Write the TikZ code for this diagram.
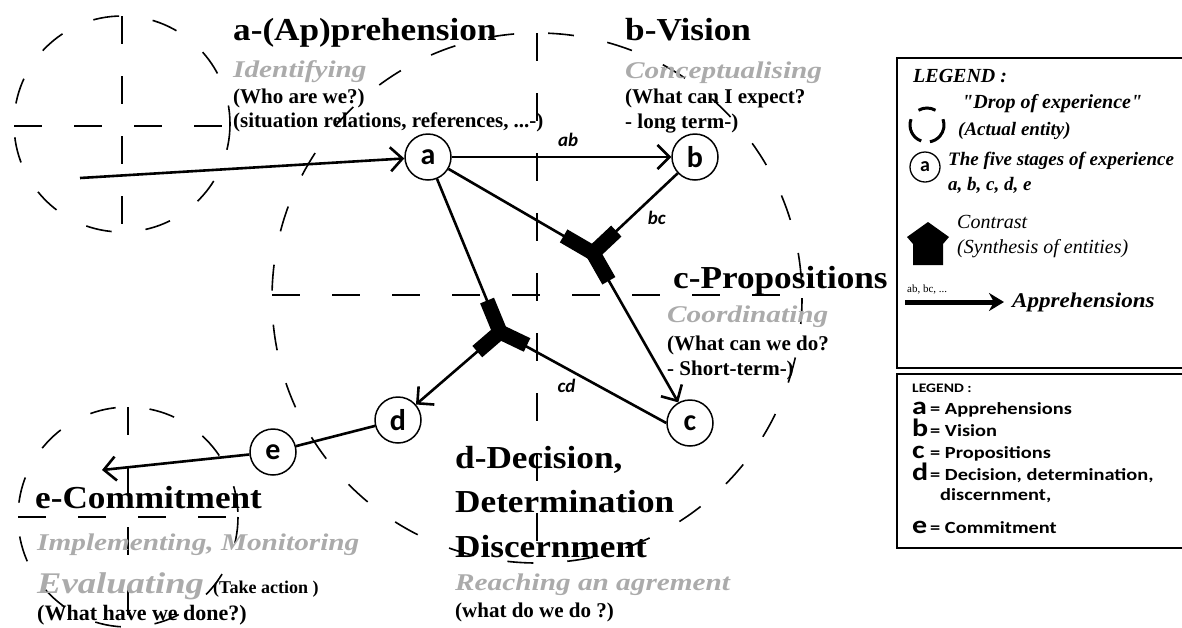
\documentclass[tikz,border=0pt]{standalone}
\usepackage{fontspec}
\setmainfont{Liberation Serif}
\newfontfamily\headfont{Liberation Serif}[FakeStretch=1.1]
\newfontfamily\grayfont{Liberation Serif}[FakeStretch=1.22]
\newfontfamily\stagefont{Carlito}
\newfontfamily\keyfont{Carlito}[FakeStretch=1.2]
\usetikzlibrary{arrows.meta,positioning,calc}

\begin{document}
\begin{tikzpicture}[
  x=1pt, y=-1pt,
  stage/.style={draw, circle, line width=1.5pt, minimum size=46pt, inner sep=0pt, fill=white,
    font=\stagefont\bfseries\fontsize{30}{30}\selectfont},
  conn/.style={line width=2.6pt},
  arr/.style={conn, -{Straight Barb[length=12pt,width=24pt]}},
  drop/.style={line width=1.6pt, dash pattern=on 26pt off 34pt},
  cross/.style={line width=1.6pt, dash pattern=on 28pt off 32pt},
  stub/.style={line width=15pt},
  hd/.style={anchor=base west, inner sep=0pt, font=\headfont\bfseries\fontsize{32}{32}\selectfont},
  gr/.style={anchor=base west, inner sep=0pt, text=black!33, font=\grayfont\bfseries\itshape\fontsize{24}{24}\selectfont},
  qs/.style={anchor=base west, inner sep=0pt, font=\bfseries\fontsize{21}{21}\selectfont},
  edgelbl/.style={inner sep=1pt, font=\stagefont\bfseries\itshape\fontsize{19}{19}\selectfont},
  lg/.style={anchor=base west, inner sep=0pt, font=\itshape\fontsize{20}{20}\selectfont},
  key/.style={anchor=base west, inner sep=0pt, font=\keyfont\bfseries\fontsize{17}{17}\selectfont}
]
\useasboundingbox (0,0) rectangle (1182,627);

\draw[drop] (122,124) circle[radius=108];
\draw[cross] (14,126) -- (230,126);
\draw[cross] (122,16) -- (122,232);
\draw[drop] (537,298) circle[radius=265];
\draw[cross] (272,295) -- (802,295);
\draw[cross] (537,33) -- (537,563);
\draw[drop] (128,517) circle[radius=110];
\draw[cross] (18,517) -- (238,517);
\draw[cross] (128,407) -- (128,627);

\node[hd] (ta) at (233,40) {a-(Ap)prehension};
\node[gr] (ga) at (233,77) {Identifying};
\node[qs] (qa1) at (233,103) {(Who are we?)};
\node[qs] (qa2) at (233,127) {(situation relations, references, ...-)};
\node[hd] (tb) at (625,40) {b-Vision};
\node[gr] (gb) at (625,78) {Conceptualising};
\node[qs] (qb1) at (625,103) {(What can I expect?};
\node[qs] (qb2) at (625,128) {- long term-)};
\node[hd] (tc) at (673,288) {c-Propositions};
\node[gr] (gc) at (667,322) {Coordinating};
\node[qs] (qc1) at (667,350) {(What can we do?};
\node[qs] (qc2) at (667,375) {- Short-term-)};
\node[hd] (td1) at (455,468) {d-Decision,};
\node[hd] (td2) at (455,512) {Determination};
\node[hd] (td3) at (455,557) {Discernment};
\node[gr] (gd) at (455,590) {Reaching an agrement};
\node[qs] (qd) at (455,617) {(what do we do ?)};
\node[hd] (te) at (35,508) {e-Commitment};
\node[gr] (ge1) at (37,550) {Implementing, Monitoring};
\node[gr, font=\grayfont\bfseries\itshape\fontsize{30}{30}\selectfont] (ge2) at (37,593) {Evaluating};
\node[qs, font=\bfseries\fontsize{18}{18}\selectfont] (qe1) at (213,593) {(Take action )};
\node[qs, font=\bfseries\fontsize{22}{22}\selectfont] (qe2) at (37,620) {(What have we done?)};

\coordinate (src) at (80,178);
\coordinate (cA) at (593,253);
\coordinate (cB) at (500,332);
\coordinate (out) at (102,470);

\draw[stub] (cA) -- ($(cA)!34pt!(428,157)$);
\draw[stub] (cA) -- ($(cA)!32pt!(695,157)$);
\draw[stub] (cA) -- ($(cA)!32pt!(690,423)$);
\draw[stub] (cB) -- ($(cB)!34pt!(428,157)$);
\draw[stub] (cB) -- ($(cB)!30pt!(398,420)$);
\draw[stub] (cB) -- ($(cB)!30pt!(690,423)$);

\node[stage] (a) at (428,157) {a};
\node[stage] (b) at (695,157) {b};
\node[stage] (c) at (690,423) {c};
\node[stage] (d) at (398,420) {d};
\node[stage] (e) at (273,452) {e};

\draw[arr] (src) -- (a);
\draw[arr] (a) -- node[edgelbl, pos=.53, above=8pt] {ab} (b);
\draw[conn] (a) -- (cA);
\draw[conn] (b) -- node[edgelbl, pos=.45, anchor=north west, xshift=6pt] {bc} (cA);
\draw[arr] (cA) -- (c);
\draw[conn] (a) -- (cB);
\draw[arr] (cB) -- (d);
\draw[conn] (cB) -- node[edgelbl, pos=.4, below=8pt] {cd} (c.west);
\draw[conn] (d) -- (e);
\draw[arr] (e) -- (out);

\draw[line width=1.6pt] (897,58) rectangle (1195,368);
\node[lg, font=\bfseries\itshape\fontsize{20}{20}\selectfont] (lg1) at (913,82) {LEGEND :};
\draw[line width=3pt] (927,125) ++(240:17) arc[start angle=240, end angle=300, radius=17];
\draw[line width=3pt] (927,125) ++(110:17) arc[start angle=110, end angle=200, radius=17];
\draw[line width=3pt] (927,125) ++(-20:17) arc[start angle=-20, end angle=80, radius=17];
\node[lg, font=\bfseries\itshape\fontsize{20}{20}\selectfont] (ld1) at (962,108) {\textquotedbl Drop of experience\textquotedbl};
\node[lg, font=\bfseries\itshape\fontsize{19}{19}\selectfont] (ld2) at (958,135) {(Actual entity)};
\node[stage, minimum size=30pt, line width=1.3pt, font=\stagefont\bfseries\fontsize{20}{20}\selectfont] (la) at (925,167) {a};
\node[lg, font=\bfseries\itshape\fontsize{19}{19}\selectfont] (ls1) at (948,165) {The five stages of experience};
\node[lg, font=\bfseries\itshape\fontsize{19}{19}\selectfont] (ls2) at (948,190) {a, b, c, d, e};
\fill (928,222) -- (949,237) -- (943,244) -- (943,265) -- (913,265) -- (913,244) -- (907,237) -- cycle;
\node[lg] (lc1) at (957,228) {Contrast};
\node[lg] (lc2) at (957,253) {(Synthesis of entities)};
\coordinate (la1) at (905,302);
\coordinate (la2) at (1004,302);
\draw[line width=5pt, -{Stealth[length=15pt,width=18pt]}] (la1) -- (la2);
\node[qs, font=\fontsize{11}{11}\selectfont] (lab) at (907,292) {ab, bc, ...};
\node[lg, font=\headfont\bfseries\itshape\fontsize{21}{21}\selectfont] (lap) at (1012,307) {Apprehensions};

\draw[line width=1.6pt] (897,374) rectangle (1195,548);
\node[key, font=\keyfont\bfseries\fontsize{13}{13}\selectfont] (lg2) at (912,392) {LEGEND :};
\node[key] (ka) at (912,414) {\makebox[18pt][l]{\fontsize{25}{25}\selectfont a}= Apprehensions};
\node[key] (kb) at (912,436) {\makebox[18pt][l]{\fontsize{25}{25}\selectfont b}= Vision};
\node[key] (kc) at (912,458) {\makebox[18pt][l]{\fontsize{25}{25}\selectfont c}= Propositions};
\node[key] (kd) at (912,480) {\makebox[18pt][l]{\fontsize{25}{25}\selectfont d}= Decision, determination,};
\node[key] (kd2) at (940,500) {discernment,};
\node[key] (ke) at (912,533) {\makebox[18pt][l]{\fontsize{25}{25}\selectfont e}= Commitment};
\end{tikzpicture}
\end{document}
